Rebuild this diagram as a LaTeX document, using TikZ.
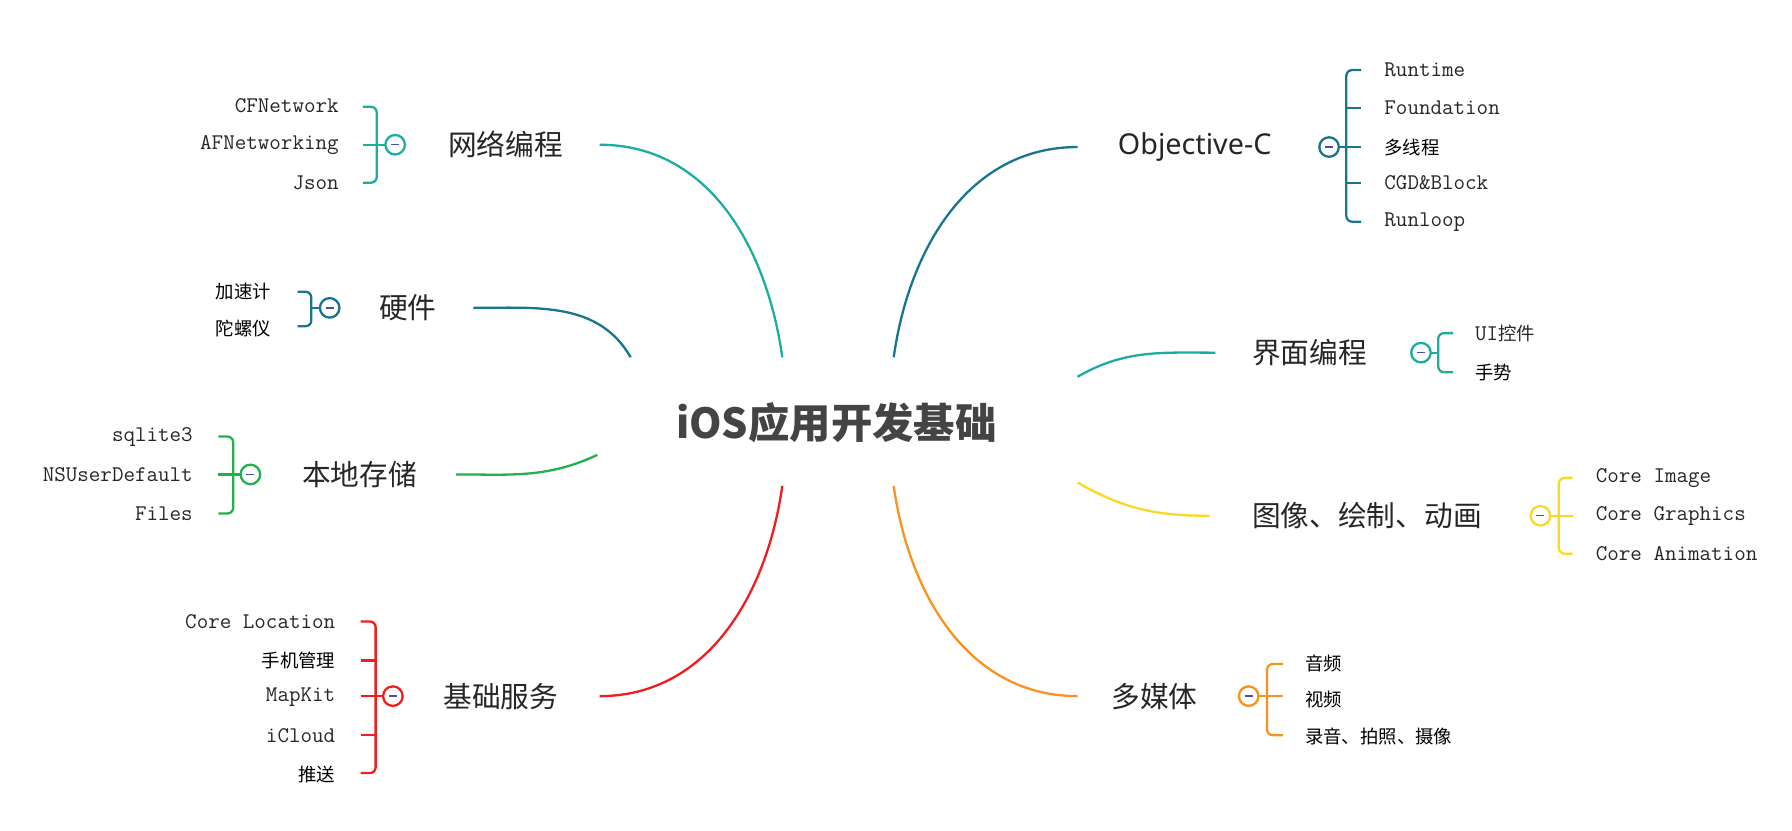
\documentclass[tikz,border=0pt]{standalone}
\usepackage{fontspec}
\setmainfont{Noto Sans CJK SC}
\usetikzlibrary{positioning}
\definecolor{cteal}{HTML}{1AAE9F}
\definecolor{cblue}{HTML}{17758F}
\definecolor{cgreen}{HTML}{22B04B}
\definecolor{cred}{HTML}{F21D1D}
\definecolor{cyellow}{HTML}{F9D923}
\definecolor{corange}{HTML}{F7931E}
\definecolor{croot}{HTML}{444444}
\begin{document}
\begin{tikzpicture}[x=1pt,y=-1pt,
    root/.style={font=\fontsize{36}{40}\selectfont\bfseries, text=croot},
    topic/.style={font=\fontsize{25}{28}\selectfont, text=black!85},
    leaf/.style={font=\ttfamily\fontsize{19.5}{20}\selectfont, text=black!85, inner sep=0pt},
    cleaf/.style={font=\fontsize{16}{18}\selectfont, text=black, inner sep=0pt},
    link/.style={line width=2pt},
    fold/.style={draw=#1, line width=2pt, fill=white, circle, minimum size=17pt, inner sep=0pt,
        path picture={\draw[blue!40!gray, line width=1.2pt] ([xshift=-3.5pt]path picture bounding box.center) -- ([xshift=3.5pt]path picture bounding box.center);}},
    brace/.style={draw=#1, line width=2pt, rounded corners=5pt}
    ]
    \useasboundingbox (0,0) rectangle (1560,723);

    % root
    \node[root] (root) at (728,368) {iOS应用开发基础};
    \coordinate (root-nw) at (681,311);
    \coordinate (root-ne) at (778,311);
    \coordinate (root-sw) at (681,423);
    \coordinate (root-se) at (778,423);
    \coordinate (root-w1) at (549,311);
    \coordinate (root-w2) at (520,396);
    \coordinate (root-e1) at (938,328);
    \coordinate (root-e2) at (938,420);

    % left side
    \node[topic] (net) at (440,126) {网络编程};
    \draw[link, cteal] (root-nw) to[out=98,in=0] (522,126);
    \draw[brace=cteal] (316,93) -- (328,93) -- (328,159) -- (316,159);
    \draw[link, cteal] (316,126) -- (344,126);
    \node[fold=cteal] (net-fold) at (344,126) {};
    \foreach \y/\t in {92/CFNetwork, 126/AFNetworking, 159/Json}
        \node[leaf, anchor=east] at (295,\y) {\t};

    \node[topic] (hw) at (355,268) {硬件};
    \draw[link, cblue] (root-w1) to[out=120,in=0] (412,268);
    \draw[brace=cblue] (259,254) -- (271,254) -- (271,284) -- (259,284);
    \draw[link, cblue] (271,268) -- (287,268);
    \node[fold=cblue] (hw-fold) at (287,268) {};
    \foreach \y/\t in {254/加速计, 286/陀螺仪}
        \node[cleaf, anchor=east] at (236,\y) {\t};

    \node[topic] (store) at (313,413) {本地存储};
    \draw[link, cgreen] (root-w2) to[out=205,in=0] (397,413);
    \draw[brace=cgreen] (190,380) -- (203,380) -- (203,447) -- (190,447);
    \draw[link, cgreen] (190,413) -- (218,413);
    \node[fold=cgreen] (store-fold) at (218,413) {};
    \foreach \y/\t in {380/sqlite3, 413/NSUserDefault, 447/Files}
        \node[leaf, anchor=east] at (168,\y) {\t};

    \node[topic] (base) at (436,606) {基础服务};
    \draw[link, cred] (root-sw) to[out=-98,in=0] (522,606);
    \draw[brace=cred] (314,541) -- (327,541) -- (327,673) -- (314,673);
    \foreach \y in {575,640}
        \draw[link, cred] (314,\y) -- (327,\y);
    \draw[link, cred] (314,606) -- (342,606);
    \node[fold=cred] (base-fold) at (342,606) {};
    \foreach \y/\t in {541/Core Location, 607/MapKit, 640/iCloud}
        \node[leaf, anchor=east] at (292,\y) {\t};
    \foreach \y/\t in {575/手机管理, 674/推送}
        \node[cleaf, anchor=east] at (292,\y) {\t};

    % right side
    \node[topic, font=\fontspec{Noto Sans}\fontsize{25}{28}\selectfont] (objc) at (1040,128) {Objective-C};
    \draw[link, cblue] (root-ne) to[out=82,in=180] (938,128);
    \draw[brace=cblue] (1185,61) -- (1172,61) -- (1172,193) -- (1185,193);
    \foreach \y in {94,159}
        \draw[link, cblue] (1172,\y) -- (1185,\y);
    \draw[link, cblue] (1157,128) -- (1185,128);
    \node[fold=cblue] (objc-fold) at (1157,128) {};
    \foreach \y/\t in {61/Runtime, 94/Foundation, 159/CGD\&Block, 193/Runloop}
        \node[leaf, anchor=west] at (1205,\y) {\t};
    \node[cleaf, anchor=west] at (1205,128) {多线程};

    \node[topic] (ui) at (1140,307) {界面编程};
    \draw[link, cteal] (root-e1) to[out=30,in=180] (1058,307);
    \draw[brace=cteal] (1265,290) -- (1252,290) -- (1252,324) -- (1265,324);
    \draw[link, cteal] (1237,307) -- (1252,307);
    \node[fold=cteal] (ui-fold) at (1237,307) {};
    \node[leaf, anchor=west] at (1284,290) {UI\rmfamily\fontsize{16}{18}\selectfont 控件};
    \node[cleaf, anchor=west] at (1284,324) {手势};

    \node[topic] (gfx) at (1190,449) {图像、绘制、动画};
    \draw[link, cyellow] (root-e2) to[out=-30,in=180] (1053,449);
    \draw[brace=cyellow] (1369,416) -- (1357,416) -- (1357,482) -- (1369,482);
    \draw[link, cyellow] (1341,449) -- (1369,449);
    \node[fold=cyellow] (gfx-fold) at (1341,449) {};
    \foreach \y/\t in {416/Core Image, 449/Core Graphics, 482/Core Animation}
        \node[leaf, anchor=west] at (1389,\y) {\t};

    \node[topic] (media) at (1005,606) {多媒体};
    \draw[link, corange] (root-se) to[out=-82,in=180] (938,606);
    \draw[brace=corange] (1117,578) -- (1103,578) -- (1103,640) -- (1117,640);
    \draw[link, corange] (1087,606) -- (1117,606);
    \node[fold=corange] (media-fold) at (1087,606) {};
    \foreach \y/\t in {578/音频, 609/视频, 641/录音、拍照、摄像}
        \node[cleaf, anchor=west] at (1136,\y) {\t};
\end{tikzpicture}
\end{document}
